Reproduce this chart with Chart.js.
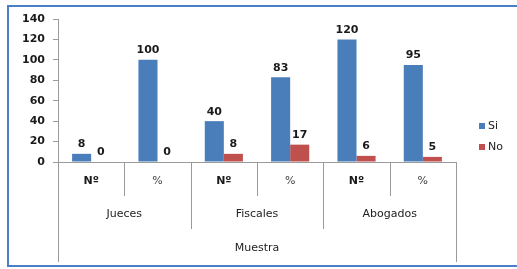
<!DOCTYPE html>
<html>
<head>
<meta charset="utf-8">
<script src="https://cdn.jsdelivr.net/npm/chart.js@4/dist/chart.umd.min.js"></script>
<style>
    body { margin: 0; background: #fff; }
    #wrap { position: relative; width: 517px; height: 269px; overflow: hidden; }
    #frame { position: absolute; left: 7px; top: 5px; width: 530px; height: 258px; border: 2px solid #4a7ec8; }
    #chart { position: absolute; left: 0; top: 0; }
</style>
</head>
<body>
<div id="wrap">
    <div id="frame"></div>
    <canvas id="chart" width="517" height="269"></canvas>
</div>
<script>
// chart data
let categories = ['Nº', '%', 'Nº', '%', 'Nº', '%'];
let groups = ['Jueces', 'Fiscales', 'Abogados'];
let axisTitle = 'Muestra';
let siValues = [8, 100, 40, 83, 120, 95];
let noValues = [0, 0, 8, 17, 6, 5];
let yTicks = [0, 20, 40, 60, 80, 100, 120, 140];

let lineColor = '#9a9a9a';

// draws value labels, the 3-level category axis and the legend
let extrasPlugin = {
    id: 'extras',
    afterDraw(chart) {
        let ctx = chart.ctx, area = chart.chartArea, x = chart.scales.x;
        ctx.save();

        // value labels above bars
        ctx.font = 'bold 11px "DejaVu Sans"';
        ctx.fillStyle = '#1a1a1a';
        ctx.textAlign = 'center';
        ctx.textBaseline = 'bottom';
        chart.data.datasets.forEach((ds, i) => {
            chart.getDatasetMeta(i).data.forEach((bar, j) => {
                ctx.fillText(ds.data[j], bar.x, bar.y - 4);
            });
        });

        // boundaries between categories
        let n = categories.length;
        let edge = (i) => {
            if (i == 0) return area.left;
            if (i == n) return area.right;
            return (x.getPixelForValue(i - 1) + x.getPixelForValue(i)) / 2;
        };
        ctx.strokeStyle = lineColor;
        ctx.lineWidth = 1;
        for (let i = 0; i <= n; i++) {
            let len = (i == 0 || i == n) ? 100 : (i % 2 == 0 ? 67 : 34);
            let px = Math.round(edge(i)) + 0.5;
            ctx.beginPath();
            ctx.moveTo(px, area.bottom);
            ctx.lineTo(px, area.bottom + len);
            ctx.stroke();
        }

        // level 1: Nº / %
        ctx.textBaseline = 'middle';
        categories.forEach((c, i) => {
            ctx.font = c == 'Nº' ? 'bold 11px "DejaVu Sans"' : '11px "DejaVu Sans"';
            ctx.fillStyle = c == 'Nº' ? '#1a1a1a' : '#444';
            ctx.fillText(c, x.getPixelForValue(i), area.bottom + 19);
        });

        // level 2: groups
        ctx.font = '11px "DejaVu Sans"';
        ctx.fillStyle = '#222';
        groups.forEach((g, k) => {
            let cx = (edge(k * 2) + edge(k * 2 + 2)) / 2;
            ctx.fillText(g, cx, area.bottom + 52);
        });

        // level 3: title
        ctx.fillText(axisTitle, (area.left + area.right) / 2, area.bottom + 86);

        // legend
        ctx.textAlign = 'left';
        chart.data.datasets.forEach((ds, i) => {
            let ly = 126 + i * 21;
            ctx.fillStyle = ds.backgroundColor;
            ctx.fillRect(479, ly - 3, 6, 6);
            ctx.fillStyle = '#222';
            ctx.fillText(ds.label, 488, ly);
        });

        ctx.restore();
    }
};

let ctx = document.querySelector('#chart');
let chart = new Chart(ctx, {
    type: 'bar',
    data: {
        labels: categories,
        datasets: [
            { label: 'Si', data: siValues, backgroundColor: '#4a7ebb' },
            { label: 'No', data: noValues, backgroundColor: '#c0504d' }
        ]
    },
    options: {
        responsive: false,
        animation: false,
        layout: { padding: { left: 0, right: 61, top: 19, bottom: 107 } },
        datasets: { bar: { barPercentage: 1, categoryPercentage: 0.575 } },
        plugins: { legend: { display: false }, tooltip: { enabled: false } },
        scales: {
            x: {
                grid: { display: false },
                border: { display: true, color: lineColor },
                ticks: { display: false },
                afterFit(scale) { scale.height = 0; }
            },
            y: {
                min: yTicks[0],
                max: yTicks[yTicks.length - 1],
                afterBuildTicks(scale) { scale.ticks = yTicks.map(v => ({ value: v })); },
                grid: { drawOnChartArea: false, tickLength: 5, color: lineColor },
                border: { color: lineColor },
                ticks: { padding: 8, color: '#1a1a1a', font: { family: 'DejaVu Sans', size: 11, weight: 'bold' } },
                afterFit(scale) { scale.width = 58; }
            }
        }
    },
    plugins: [extrasPlugin]
});
</script>
</body>
</html>
